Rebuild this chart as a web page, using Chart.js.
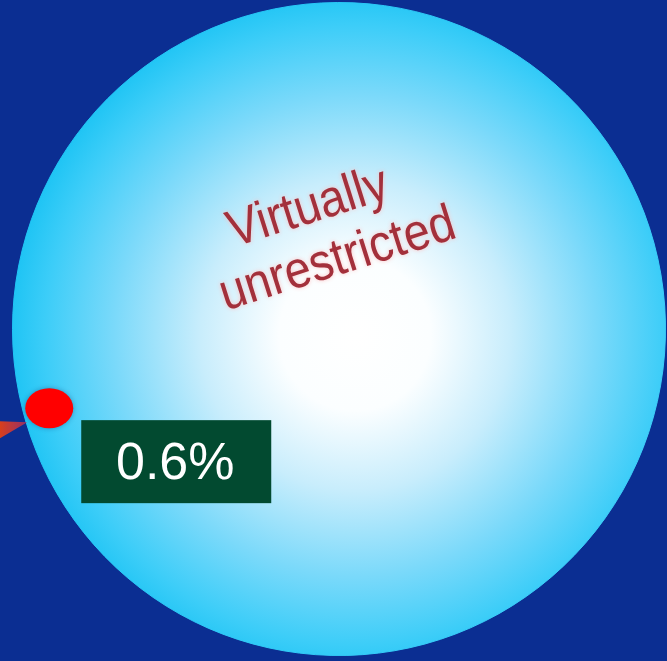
<!DOCTYPE html>
<html>
<head>
<meta charset="utf-8">
<title>Virtually unrestricted</title>
<script src="https://cdn.jsdelivr.net/npm/chart.js@4/dist/chart.umd.min.js"></script>
<style>
  html, body { margin: 0; padding: 0; background: #0b2e92; overflow: hidden; }
  #wrap { width: 667px; height: 661px; position: relative; }
</style>
</head>
<body>
<div id="wrap"><canvas id="pie"></canvas></div>
<script>
// Share of the area: almost all of it is unrestricted, a tiny bit is not
const labels = ['Virtually unrestricted', 'Restricted'];
const shares = [99.4, 0.6];
const shareText = ['Virtually\nunrestricted', '0.6%'];

document.addEventListener('DOMContentLoaded', () => {
  const ctx = document.getElementById('pie').getContext('2d');

  // Soft white-to-cyan glow for the big disc
  function makeGlow(chart) {
    const area = chart.chartArea;
    const cx = (area.left + area.right) / 2 + 16;
    const cy = (area.top + area.bottom) / 2 + 6;
    const r = (area.right - area.left) / 2 + 18;
    const g = chart.ctx.createRadialGradient(cx, cy, 0, cx, cy, r);
    g.addColorStop(0, '#ffffff');
    g.addColorStop(0.22, '#fbfeff');
    g.addColorStop(0.45, '#c8edfc');
    g.addColorStop(0.7, '#7ad9fa');
    g.addColorStop(0.9, '#3ccdf8');
    g.addColorStop(1, '#1ec4f4');
    return g;
  }

  function discFill(context) {
    if (!context.chart.chartArea) return '#8fdcf9';
    return makeGlow(context.chart);
  }

  // Fill under the slices so no seam shows between them
  const underlay = {
    id: 'underlay',
    beforeDatasetsDraw(chart) {
      const arc = chart.getDatasetMeta(0).data[0];
      if (!arc) return;
      const c = chart.ctx;
      c.save();
      c.fillStyle = makeGlow(chart);
      c.beginPath();
      c.arc(arc.x, arc.y, arc.outerRadius - 0.5, 0, Math.PI * 2);
      c.fill();
      c.restore();
    }
  };

  // Draws the text of the big slice and the marker + label of the small one
  const annotate = {
    id: 'annotate',
    afterDatasetsDraw(chart) {
      const c = chart.ctx;
      const arcs = chart.getDatasetMeta(0).data;
      const big = arcs[0];
      const small = arcs[1];

      // rotated caption on the disc (letters a bit narrow, as in the original)
      c.save();
      c.translate(big.x + 3, big.y - 55);
      c.rotate(-17.5 * Math.PI / 180);
      c.scale(0.9, 1);
      c.font = '52px "Liberation Sans", Arial, sans-serif';
      c.textAlign = 'center';
      c.textBaseline = 'alphabetic';
      c.fillStyle = '#a3303b';
      c.shadowColor = 'rgba(255, 190, 190, 0.9)';
      c.shadowBlur = 4;
      const lines = shareText[0].split('\n');
      c.fillText(lines[0], -14, -58);
      c.fillText(lines[1], 0, 0);
      c.restore();

      // red dot at the small slice, near the rim
      const mid = (small.startAngle + small.endAngle) / 2;
      const rr = small.outerRadius * 0.92;
      const dx = small.x + Math.cos(mid) * rr;
      const dy = small.y + Math.sin(mid) * rr;

      // arrow coming in from the left edge
      c.save();
      const ag = c.createLinearGradient(0, 0, dx - 22, 0);
      ag.addColorStop(0, '#d8401c');
      ag.addColorStop(1, 'rgba(210, 50, 80, 0.7)');
      c.fillStyle = ag;
      c.beginPath();
      c.moveTo(0, dy + 13);
      c.lineTo(dx - 22, dy + 14);
      c.lineTo(0, dy + 30);
      c.closePath();
      c.fill();
      c.restore();

      c.save();
      c.shadowColor = 'rgba(0, 30, 90, 0.35)';
      c.shadowBlur = 5;
      c.fillStyle = '#ff0000';
      c.beginPath();
      c.ellipse(dx, dy, 24, 20, 0, 0, Math.PI * 2);
      c.fill();
      c.restore();

      // value box
      const bx = dx + 32;
      const by = dy + 12;
      c.save();
      c.fillStyle = '#024a30';
      c.fillRect(bx, by, 190, 83);
      c.fillStyle = '#ffffff';
      c.font = '52px "Liberation Sans", Arial, sans-serif';
      c.textAlign = 'center';
      c.textBaseline = 'middle';
      c.fillText(shareText[1], bx + 94, by + 44);
      c.restore();
    }
  };

  new Chart(ctx, {
    type: 'pie',
    data: {
      labels: labels,
      datasets: [{
        data: shares,
        backgroundColor: discFill,
        borderColor: discFill,
        borderWidth: 1
      }]
    },
    options: {
      responsive: true,
      maintainAspectRatio: false,
      animation: false,
      rotation: 255.8,
      layout: { padding: { left: 12, right: 1, top: 2, bottom: 5 } },
      plugins: {
        legend: { display: false },
        tooltip: { enabled: false }
      }
    },
    plugins: [underlay, annotate]
  });
});
</script>
</body>
</html>
